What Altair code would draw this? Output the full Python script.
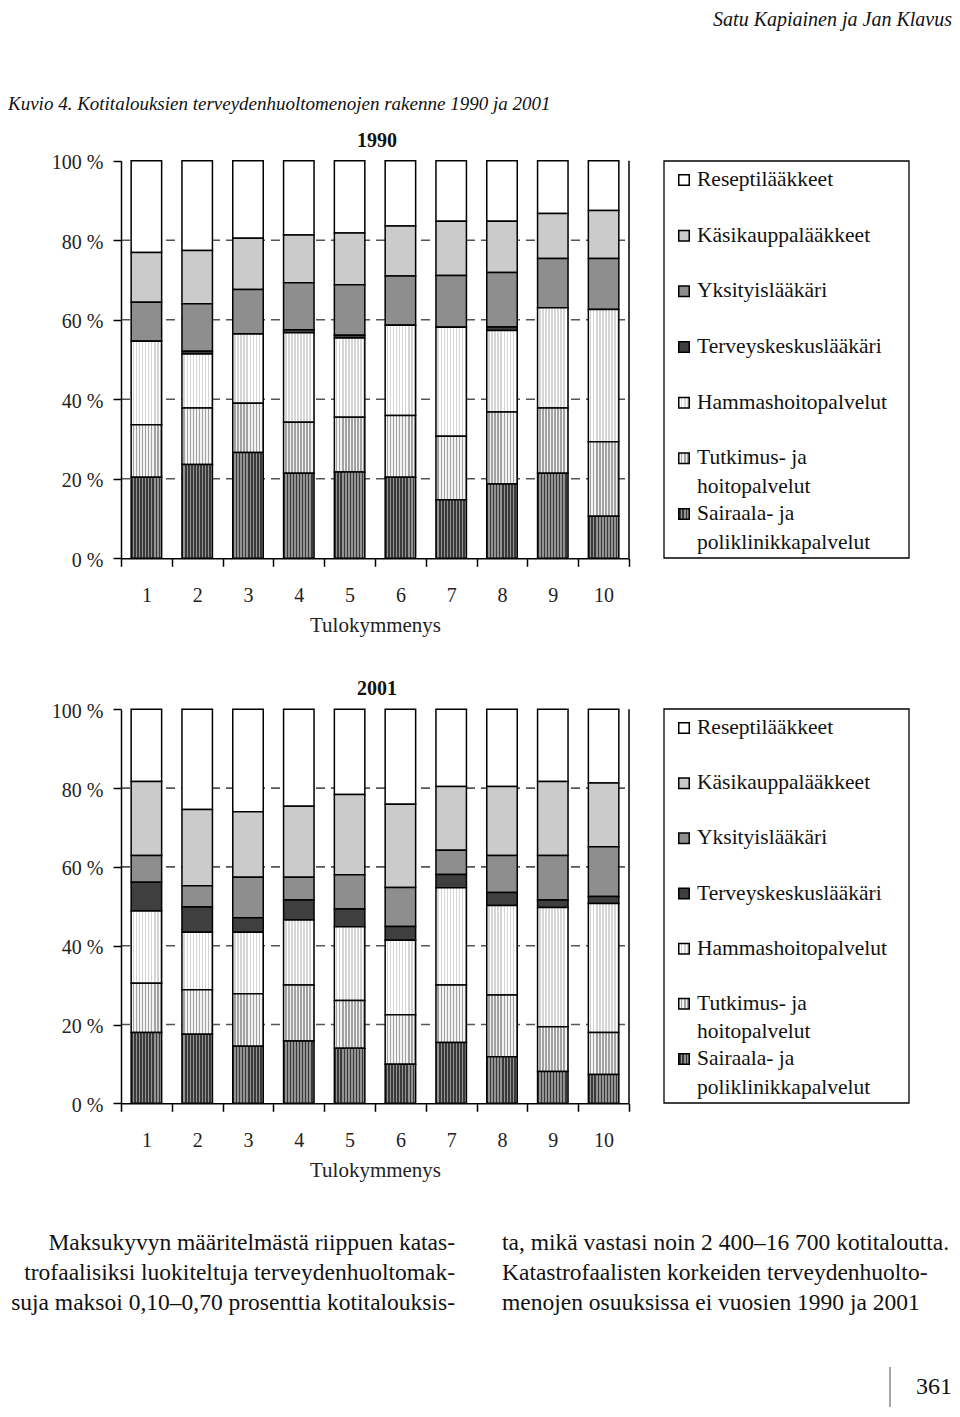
import altair as alt
import pandas as pd

# ---------------- data (% of household health spending) -------------
deciles = ["1", "2", "3", "4", "5", "6", "7", "8", "9", "10"]
categories = [
    "Reseptilääkkeet",
    "Käsikauppalääkkeet",
    "Yksityislääkäri",
    "Terveyskeskuslääkäri",
    "Hammashoitopalvelut",
    "Tutkimus- ja hoitopalvelut",
    "Sairaala- ja poliklinikkapalvelut",
]
legend_line1 = ["Reseptilääkkeet", "Käsikauppalääkkeet", "Yksityislääkäri",
                "Terveyskeskuslääkäri", "Hammashoitopalvelut", "Tutkimus- ja", "Sairaala- ja"]
legend_line2 = ["", "", "", "", "", "hoitopalvelut", "poliklinikkapalvelut"]
fills = ["#ffffff", "#cbcbcb", "#8e8e8e", "#3f3f3f", "#e6e6e6", "#c4c4c4", "#676767"]

# 1990
resepti_1990 = [23.1, 22.6, 19.5, 18.7, 18.2, 16.4, 15.2, 15.2, 13.3, 12.5]
kasi_1990 = [12.5, 13.4, 12.9, 12.0, 13.0, 12.6, 13.7, 12.9, 11.3, 12.1]
yksit_1990 = [9.8, 11.9, 11.2, 11.8, 12.7, 12.4, 13.0, 13.7, 12.4, 12.8]
terveys_1990 = [0.0, 0.7, 0.0, 0.8, 0.7, 0.0, 0.0, 0.9, 0.0, 0.0]
hammas_1990 = [21.0, 13.6, 17.4, 22.5, 19.9, 22.7, 27.4, 20.5, 25.2, 33.3]
tutkimus_1990 = [13.2, 14.2, 12.4, 12.8, 13.8, 15.5, 16.0, 18.1, 16.4, 18.7]
sairaala_1990 = [20.4, 23.6, 26.6, 21.4, 21.7, 20.4, 14.7, 18.7, 21.4, 10.6]

# 2001
resepti_2001 = [18.3, 25.4, 26.0, 24.6, 21.6, 24.1, 19.6, 19.6, 18.3, 18.7]
kasi_2001 = [18.8, 19.4, 16.6, 18.0, 20.4, 21.1, 16.2, 17.5, 18.8, 16.2]
yksit_2001 = [6.8, 5.4, 10.3, 5.8, 8.7, 9.9, 6.1, 9.4, 11.3, 12.6]
terveys_2001 = [7.3, 6.4, 3.7, 5.1, 4.5, 3.5, 3.4, 3.3, 1.9, 1.8]
hammas_2001 = [18.3, 14.6, 15.6, 16.5, 18.7, 18.9, 24.7, 22.7, 30.3, 32.7]
tutkimus_2001 = [12.5, 11.3, 13.3, 14.2, 12.1, 12.6, 14.6, 15.7, 11.3, 10.7]
sairaala_2001 = [18.0, 17.5, 14.5, 15.8, 14.0, 9.9, 15.4, 11.8, 8.1, 7.3]

y_ticks = [0, 20, 40, 60, 80, 100]
grid_values = [20, 40, 60, 80]

header_right = "Satu Kapiainen ja Jan Klavus"
figure_caption = "Kuvio 4. Kotitalouksien terveydenhuoltomenojen rakenne 1990 ja 2001"
x_title = "Tulokymmenys"
left_column = ["Maksukyvyn määritelmästä riippuen katas-",
               "trofaalisiksi luokiteltuja terveydenhuoltomak-",
               "suja maksoi 0,10–0,70 prosenttia kotitalouksis-"]
right_column = ["ta, mikä vastasi noin 2 400–16 700 kotitaloutta.",
                "Katastrofaalisten korkeiden terveydenhuolto-",
                "menojen osuuksissa ei vuosien 1990 ja 2001"]
page_number = "361"

series_1990 = [resepti_1990, kasi_1990, yksit_1990, terveys_1990, hammas_1990, tutkimus_1990, sairaala_1990]
series_2001 = [resepti_2001, kasi_2001, yksit_2001, terveys_2001, hammas_2001, tutkimus_2001, sairaala_2001]

# textured (dithered) categories: two alternating greys (style)
textures = {
    "Hammashoitopalvelut": ("#ffffff", "#d6d6d6"),
    "Tutkimus- ja hoitopalvelut": ("#f2f2f2", "#a2a2a2"),
    "Sairaala- ja poliklinikkapalvelut": ("#3a3a3a", "#929292"),
}


def long_table(series_list):
    rows = []
    n = len(categories)
    for i, (cat, vals) in enumerate(zip(categories, series_list)):
        for d, v in zip(deciles, vals):
            rows.append({"decile": d, "category": cat, "value": v, "pos": n - 1 - i})
    return pd.DataFrame(rows)


df_1990 = long_table(series_1990)
df_2001 = long_table(series_2001)
leg_df = pd.DataFrame({"category": categories, "idx": list(range(len(categories))),
                       "line1": legend_line1, "line2": legend_line2})

# ---------------- layout (page pixels -> chart pixels) ----------------
W, H = 944, 1400
M = 8
FONT = "Liberation Serif"


def px(x):
    return x - M


def py(y):
    return y - M


one = pd.DataFrame({"a": [0]})
color_scale = alt.Scale(domain=categories, range=fills)


def stripes(c1, c2, n):
    stops = []
    for k in range(n):
        c = c1 if k % 2 == 0 else c2
        stops.append({"offset": k / n, "color": c})
        stops.append({"offset": (k + 1) / n, "color": c})
    return {"gradient": "linear", "x1": 0, "y1": 0, "x2": 1, "y2": 0, "stops": stops}


def textured_fill(n):
    conds = [{"test": "datum.category === '%s'" % cat, "value": stripes(c1, c2, n)}
             for cat, (c1, c2) in textures.items()]
    return alt.Fill("category:N", scale=color_scale, legend=None, condition=conds)


def text_layer(text, x, y, size, align="left", style="normal", weight="normal",
               color="#111111", line_height=None):
    kw = dict(align=align, baseline="alphabetic", font=FONT, fontSize=size,
              fontStyle=style, fontWeight=weight, color=color)
    if line_height is not None:
        kw["lineBreak"] = "\n"
        kw["lineHeight"] = line_height
    return alt.Chart(pd.DataFrame({"t": [text]})).mark_text(**kw).encode(
        text="t:N", x=alt.value(x), y=alt.value(y))


def bar_panel(df, y_bottom, y_top, year):
    xs = alt.Scale(domain=deciles, range=[px(121), px(629)], paddingInner=0, paddingOuter=0)
    ys = alt.Scale(domain=[0, 100], range=[py(y_bottom), py(y_top)], nice=False)
    x_axis = alt.Axis(orient="bottom", offset=py(y_bottom) - H, tickBand="extent",
                      labelAngle=0, title=x_title, domainColor="black", domainWidth=1.5,
                      tickColor="black", tickWidth=1.5, tickSize=8,
                      labelFont=FONT, labelFontSize=20, labelColor="#222222", labelPadding=19,
                      titleFont=FONT, titleFontSize=21, titleFontWeight="normal",
                      titleColor="#222222", titlePadding=9, grid=False, zindex=1)
    y_axis = alt.Axis(orient="left", offset=-px(121), values=y_ticks,
                      labelExpr="datum.value + ' %'", title=None, grid=False,
                      domainColor="black", domainWidth=1.5, tickColor="black",
                      tickWidth=1.5, tickSize=8, labelFont=FONT, labelFontSize=20,
                      labelColor="#222222", labelPadding=10, labelOffset=2, zindex=1)
    grid = alt.Chart(pd.DataFrame({"value": grid_values})).mark_rule(
        color="#555555", strokeWidth=1.6, strokeDash=[9, 6]).encode(
        y=alt.Y("value:Q", scale=ys, axis=y_axis),
        x=alt.value(px(121)), x2=alt.value(px(629)))
    bars = alt.Chart(df).mark_bar(width=alt.RelativeBandSize(0.6), stroke="black",
                                  strokeWidth=1.5).encode(
        x=alt.X("decile:N", scale=xs, sort=deciles, axis=x_axis),
        y=alt.Y("value:Q", stack="zero", scale=ys, axis=y_axis),
        fill=textured_fill(20),
        order=alt.Order("pos:Q", sort="ascending"),
    )
    border = alt.Chart(pd.DataFrame({"hi": [100], "lo": [0]})).mark_rule(
        color="black", strokeWidth=1.5).encode(
        x=alt.value(px(629)),
        y=alt.Y("hi:Q", scale=ys, axis=y_axis), y2="lo:Q")
    title = text_layer(year, px(377), py(y_top) - 14, 20, align="center", weight="bold")
    return alt.layer(grid, bars, border, title)


def legend_panel(box_top, box_bottom, first_y, last_y):
    ys = alt.Scale(type="point", domain=list(range(len(categories))),
                   range=[py(first_y), py(last_y)], padding=0)
    box = alt.Chart(one).mark_rect(fill="white", stroke="black", strokeWidth=1.3).encode(
        x=alt.value(px(664)), x2=alt.value(px(909)),
        y=alt.value(py(box_top)), y2=alt.value(py(box_bottom)))
    base = alt.Chart(leg_df).encode(y=alt.Y("idx:O", scale=ys, axis=None))
    sym = base.mark_square(size=110, stroke="black", strokeWidth=1.5, opacity=1).encode(
        x=alt.value(px(684)), fill=textured_fill(6))
    t1 = base.mark_text(align="left", baseline="middle", font=FONT, fontSize=21.5,
                        color="#111111").encode(x=alt.value(px(697)), text="line1:N")
    t2 = base.mark_text(align="left", baseline="middle", font=FONT, fontSize=21.5,
                        color="#111111", dy=28.5).encode(x=alt.value(px(697)), text="line2:N")
    return alt.layer(box, sym, t1, t2)


panel_1990 = bar_panel(df_1990, 558.3, 160.7, "1990")
panel_2001 = bar_panel(df_2001, 1103.3, 709.3, "2001")
legend_1990 = legend_panel(161, 558, 180, 514)
legend_2001 = legend_panel(709, 1103, 728, 1059)

header = text_layer(header_right, px(952), py(26), 20, align="right", style="italic")
caption = text_layer(figure_caption, px(8), py(110), 19, style="italic")
body_left = text_layer("\n".join(left_column), px(455), py(1250), 23.5, align="right",
                       line_height=30)
body_right = text_layer("\n".join(right_column), px(502), py(1250), 23.5, line_height=30)
page_no = text_layer(page_number, px(952), py(1394), 24, align="right")
page_rule = alt.Chart(one).mark_rule(color="#888888", strokeWidth=1.5).encode(
    x=alt.value(px(890)), y=alt.value(py(1367)), y2=alt.value(py(1407)))

chart = alt.layer(
    panel_1990, panel_2001, legend_1990, legend_2001,
    header, caption, body_left, body_right, page_no, page_rule,
).resolve_scale(x="independent", y="independent").properties(
    width=W, height=H, padding=0,
    autosize=alt.AutoSizeParams(type="none"),
).configure_view(stroke="transparent")

chart.save("out.html", embed_options={"renderer": "svg", "actions": False})
